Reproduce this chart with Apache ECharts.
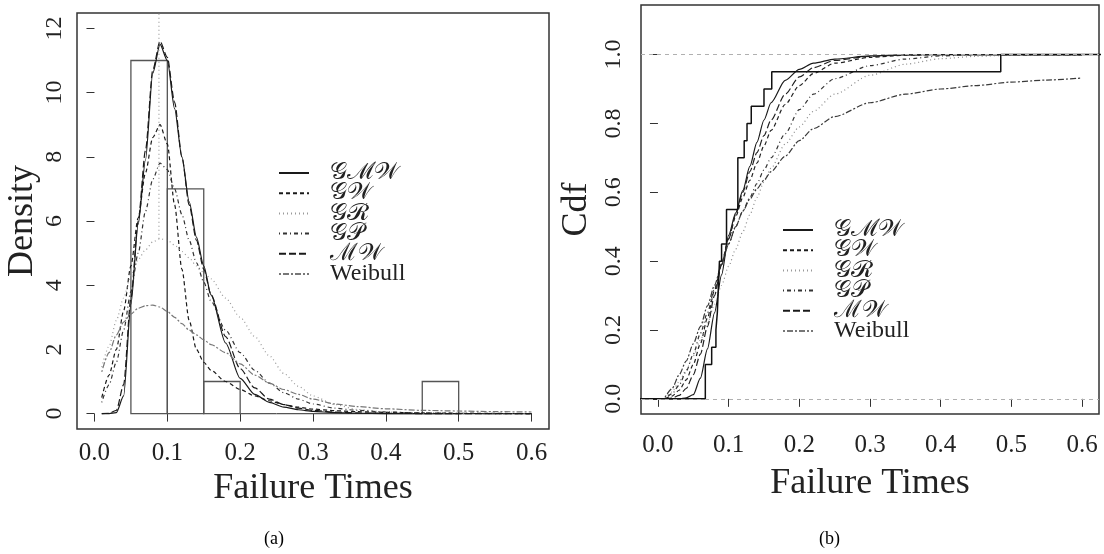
<!DOCTYPE html>
<html>
<head>
<meta charset="utf-8">
<script src="https://cdn.jsdelivr.net/npm/echarts@6/dist/echarts.min.js"></script>
<style>
html,body{margin:0;padding:0;background:#fff;}
#chart{width:1104px;height:554px;}
</style>
</head>
<body>
<div id="chart"></div>
<script>
// ---------- data ----------
const seriesNames = ['𝒢ℳ𝒲', '𝒢𝒲', '𝒢ℛ', '𝒢𝒫', 'ℳ𝒲', 'Weibull'];

// histogram (panel a)
const binStart = [0.05, 0.10, 0.15, 0.20, 0.25, 0.30, 0.35, 0.40, 0.45];
const binEnd   = [0.10, 0.15, 0.20, 0.25, 0.30, 0.35, 0.40, 0.45, 0.50];
const binDensity = [11, 7, 1, 0, 0, 0, 0, 0, 1];

// fitted densities (panel a)
const densX = [0.01,0.02,0.03,0.04,0.05,0.06,0.07,0.08,0.09,0.10,0.11,0.12,0.13,0.14,0.15,0.16,0.18,0.20,0.22,0.24,0.26,0.28,0.30,0.33,0.36,0.40,0.45,0.50,0.55,0.60];
const densGMW = [0,0,0.03,0.55,3.4,5.9,7.9,10.6,11.5,11.0,9.5,8.0,6.6,5.5,4.6,3.7,2.2,1.1,0.6,0.35,0.2,0.12,0.07,0.03,0.01,0,0,0,0,0];
const densGW  = [0.5,1.2,2.0,3.2,4.6,6.1,7.5,8.6,9.0,8.4,6.5,4.5,2.9,2.0,1.6,1.35,1.0,0.75,0.55,0.4,0.28,0.2,0.14,0.09,0.06,0.04,0.02,0.01,0.005,0];
const densGR  = [1.45,2.1,2.9,3.6,4.3,4.8,5.1,5.35,5.45,5.4,5.25,5.05,4.85,4.6,4.4,4.2,3.6,3.0,2.4,1.8,1.25,0.85,0.55,0.28,0.13,0.05,0.01,0,0,0];
const densGP  = [0.35,0.9,1.6,2.6,3.8,5.0,6.3,7.3,7.8,7.6,7.0,6.2,5.4,4.7,4.1,3.5,2.6,1.9,1.35,0.95,0.65,0.45,0.3,0.17,0.1,0.05,0.02,0.01,0,0];
const densMW  = [0,0.01,0.1,0.9,3.6,6.0,8.2,10.7,11.6,11.1,9.7,8.0,6.5,5.4,4.5,3.7,2.4,1.4,0.8,0.45,0.28,0.17,0.1,0.05,0.02,0.01,0,0,0,0];
const densWeibull = [1.3,1.9,2.45,2.85,3.1,3.28,3.36,3.38,3.32,3.18,3.0,2.8,2.6,2.45,2.3,2.15,1.9,1.55,1.2,0.95,0.75,0.6,0.45,0.3,0.22,0.15,0.1,0.08,0.06,0.05];
const grSpikeX = [0.0885, 0.0885];
const grSpikeY = [5.45, 14];

// empirical cdf (panel b)
const ecdfX = [-0.05,0.067,0.076,0.082,0.084,0.085,0.086,0.087,0.090,0.097,0.113,0.122,0.126,0.132,0.150,0.161,0.485,0.70];
const ecdfY = [0,0.10,0.15,0.20,0.25,0.30,0.35,0.40,0.45,0.55,0.70,0.75,0.80,0.85,0.90,0.95,1.00,1.00];

// fitted cdfs (panel b)
const cdfX = [0.01,0.02,0.03,0.04,0.05,0.06,0.07,0.08,0.09,0.10,0.11,0.12,0.13,0.14,0.15,0.16,0.18,0.20,0.22,0.25,0.30,0.35,0.40,0.45,0.50,0.55,0.60];
const cdfGMW = [0,0,0,0.003,0.012,0.06,0.145,0.25,0.36,0.475,0.54,0.605,0.675,0.745,0.81,0.86,0.925,0.957,0.975,0.987,0.996,0.999,1,1,1,1,1];
const cdfGW  = [0,0.008,0.025,0.055,0.1,0.16,0.235,0.315,0.395,0.465,0.53,0.585,0.635,0.685,0.735,0.78,0.855,0.91,0.945,0.975,0.992,0.998,1,1,1,1,1];
const cdfGR  = [0.003,0.02,0.05,0.085,0.125,0.17,0.22,0.275,0.33,0.385,0.435,0.485,0.535,0.585,0.63,0.67,0.74,0.79,0.835,0.885,0.94,0.972,0.988,0.995,0.998,1,1];
const cdfGP  = [0,0.015,0.04,0.08,0.13,0.19,0.25,0.32,0.39,0.45,0.5,0.545,0.585,0.625,0.665,0.70,0.77,0.84,0.885,0.93,0.968,0.987,0.996,1,1,1,1];
const cdfMW  = [0,0.002,0.01,0.03,0.07,0.13,0.21,0.3,0.39,0.465,0.535,0.6,0.66,0.715,0.765,0.81,0.885,0.935,0.962,0.983,0.995,0.999,1,1,1,1,1];
const cdfWeibull = [0.005,0.03,0.07,0.11,0.16,0.21,0.27,0.33,0.39,0.45,0.5,0.545,0.58,0.61,0.635,0.66,0.705,0.75,0.785,0.82,0.86,0.885,0.9,0.91,0.92,0.926,0.932];

// tick labels
const xTicks = [0, 0.1, 0.2, 0.3, 0.4, 0.5, 0.6];
const densTicks = [0, 2, 4, 6, 8, 10, 12];
const cdfTicks = [0, 0.2, 0.4, 0.6, 0.8, 1.0];

// ---------- chart ----------
const FONT = '"Liberation Serif", "DejaVu Serif", serif';
const pairs = (xs, ys) => xs.map((x, i) => [x, ys[i]]);

const dashes = {
  '𝒢ℳ𝒲': 'solid', '𝒢𝒲': [4, 3], '𝒢ℛ': [1, 3], '𝒢𝒫': [1, 3, 4, 3], 'ℳ𝒲': [7, 3], 'Weibull': [2, 2, 6, 2]
};
const colorsA = {'𝒢ℳ𝒲': '#1a1a1a', '𝒢𝒲': '#1a1a1a', '𝒢ℛ': '#9a9a9a', '𝒢𝒫': '#333', 'ℳ𝒲': '#1a1a1a', 'Weibull': '#777'};
const colorsB = {'𝒢ℳ𝒲': '#1a1a1a', '𝒢𝒲': '#222', '𝒢ℛ': '#8a8a8a', '𝒢𝒫': '#333', 'ℳ𝒲': '#222', 'Weibull': '#3a3a3a'};

function curve(name, xs, ys, xi, yi, colors, extra) {
  const c = colors[name];
  return Object.assign({
    type: 'line', name: name, xAxisIndex: xi, yAxisIndex: yi,
    data: pairs(xs, ys), symbol: 'none', smooth: 0.25, smoothMonotone: 'x',
    lineStyle: {type: dashes[name], color: c, width: 1.2},
    itemStyle: {color: c}, z: 3, silent: true
  }, extra || {});
}

const densSets = [densGMW, densGW, densGR, densGP, densMW, densWeibull];
const cdfSets = [cdfGMW, cdfGW, cdfGR, cdfGP, cdfMW, cdfWeibull];

const series = [];
series.push({
  type: 'custom', xAxisIndex: 0, yAxisIndex: 0, silent: true, z: 2,
  data: binStart.map((s, i) => [s, binEnd[i], binDensity[i]]),
  encode: {x: [0, 1], y: 2},
  renderItem: function (params, api) {
    const p0 = api.coord([api.value(0), 0]);
    const p1 = api.coord([api.value(1), api.value(2)]);
    return {type: 'rect',
      shape: {x: p0[0], y: p1[1], width: p1[0] - p0[0], height: p0[1] - p1[1]},
      style: {fill: 'none', stroke: '#555', lineWidth: 1.3}};
  }
});
seriesNames.forEach((n, i) => series.push(curve(n, densX, densSets[i], 0, 0, colorsA)));
series.push(curve('𝒢ℛ', grSpikeX, grSpikeY, 0, 0, colorsA, {smooth: false}));

series.push({
  type: 'line', name: 'ecdf', xAxisIndex: 1, yAxisIndex: 1, silent: true,
  data: pairs(ecdfX, ecdfY), step: 'end', symbol: 'none', z: 4,
  lineStyle: {color: '#111', width: 1.5},
  markLine: {silent: true, symbol: 'none', label: {show: false},
    lineStyle: {type: [4, 4], color: '#b0b0b0', width: 1},
    data: [{yAxis: 0}, {yAxis: 1}]}
});
seriesNames.forEach((n, i) => series.push(curve(n, cdfX, cdfSets[i], 1, 1, colorsB)));

function xAxisDef(gi, labelMargin, nameGap) {
  return {
    type: 'value', gridIndex: gi, min: -0.024, max: 0.624,
    name: 'Failure Times', nameLocation: 'middle', nameGap: nameGap,
    nameTextStyle: {fontFamily: FONT, fontSize: 36, color: '#222'},
    axisLine: {show: false}, splitLine: {show: false},
    axisTick: {show: true, length: 8, customValues: xTicks, lineStyle: {color: '#333', width: 1}},
    axisLabel: {customValues: xTicks, margin: labelMargin, fontFamily: FONT, fontSize: 25, color: '#222',
      formatter: v => v.toFixed(1)}
  };
}
function yAxisDef(gi, min, max, ticks, fmt, name, labelMargin, nameGap) {
  return {
    type: 'value', gridIndex: gi, min: min, max: max,
    name: name, nameLocation: 'middle', nameGap: nameGap, nameRotate: 90,
    nameTextStyle: {fontFamily: FONT, fontSize: 36, color: '#222'},
    axisLine: {show: false}, splitLine: {show: false},
    axisTick: {show: true, length: 8, customValues: ticks, lineStyle: {color: '#333', width: 1}},
    axisLabel: {customValues: ticks, rotate: 90, margin: labelMargin, fontFamily: FONT, fontSize: 24, color: '#222',
      formatter: fmt}
  };
}

const legendCommon = {
  orient: 'vertical', itemWidth: 30, itemHeight: 14, itemGap: -3.8,
  data: seriesNames, selectedMode: false,
  itemStyle: {opacity: 0},
  textStyle: {fontFamily: FONT, fontSize: 24, color: '#222', padding: [0, 0, 0, 16]}
};

const option = {
  backgroundColor: '#fff',
  animation: false,
  grid: [
    {left: 77, top: 13, width: 472, height: 416, show: true, borderColor: '#333', borderWidth: 1.5, backgroundColor: 'transparent'},
    {left: 641, top: 5, width: 458, height: 409, show: true, borderColor: '#333', borderWidth: 1.5, backgroundColor: 'transparent'}
  ],
  xAxis: [xAxisDef(0, 12, 41), xAxisDef(1, 19, 52)],
  yAxis: [
    yAxisDef(0, -0.48, 12.48, densTicks, v => String(v), 'Density', 10, 36),
    yAxisDef(1, -0.044, 1.144, cdfTicks, v => v.toFixed(1), 'Cdf', 15, 46)
  ],
  legend: [
    Object.assign({left: 273, top: 156}, legendCommon),
    Object.assign({left: 777, top: 213}, legendCommon)
  ],
  graphic: [
    {type: 'text', left: 264, top: 530, style: {text: '(a)', font: '18px "Liberation Serif", serif', fill: '#000'}},
    {type: 'text', left: 819, top: 530, style: {text: '(b)', font: '18px "Liberation Serif", serif', fill: '#000'}}
  ],
  series: series
};

const chart = echarts.init(document.getElementById('chart'), null, {renderer: 'canvas'});
chart.setOption(option);
</script>
</body>
</html>
